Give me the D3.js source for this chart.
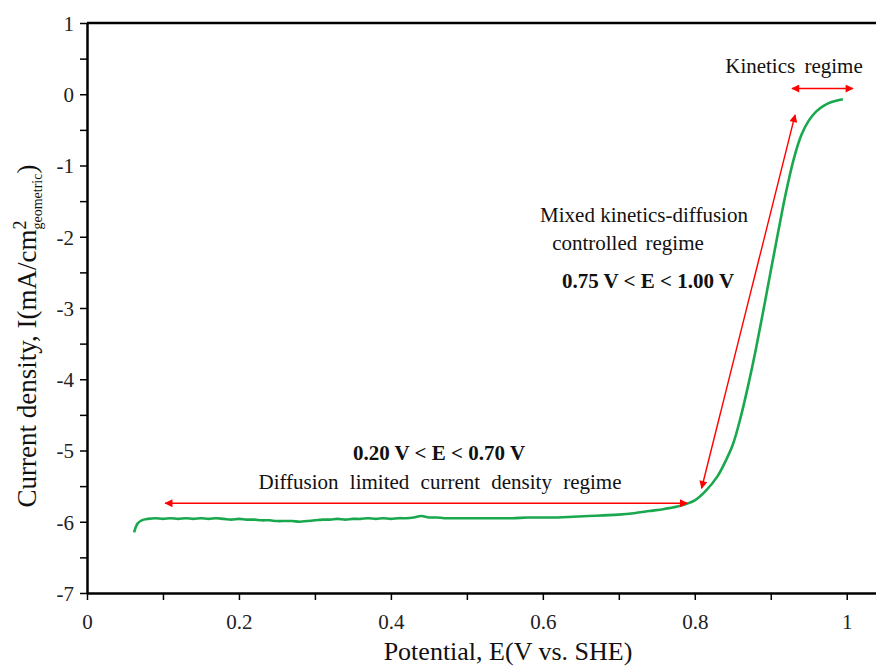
<!DOCTYPE html>
<html>
<head>
<meta charset="utf-8">
<script src="https://cdn.jsdelivr.net/npm/d3@7"></script>
<style>
  body { margin: 0; background: #fff; }
  svg text { font-family: "Liberation Serif", "DejaVu Serif", serif; }
</style>
</head>
<body>
<svg id="chart" width="876" height="667"></svg>
<script>
//
// Data
//

var potential = [0.062, 0.064, 0.067, 0.072, 0.08, 0.09, 0.10, 0.11, 0.12, 0.13, 0.14, 0.15, 0.16, 0.17, 0.18, 0.19,
  0.20, 0.21, 0.22, 0.23, 0.24, 0.25, 0.26, 0.27, 0.28, 0.29, 0.30, 0.31, 0.32, 0.33, 0.34, 0.35, 0.36, 0.37, 0.38, 0.39,
  0.40, 0.41, 0.42, 0.43, 0.44, 0.45, 0.46, 0.47, 0.48, 0.49, 0.50, 0.52, 0.54, 0.56, 0.58, 0.60, 0.62, 0.64, 0.66, 0.68,
  0.70, 0.72, 0.74, 0.76, 0.78, 0.80, 0.815, 0.83, 0.84, 0.85, 0.86, 0.87, 0.88, 0.89, 0.90, 0.91, 0.92, 0.93, 0.94,
  0.95, 0.96, 0.97, 0.98, 0.995]
var current = [-6.15, -6.08, -6.02, -5.98, -5.96, -5.95, -5.96, -5.95, -5.96, -5.95, -5.96, -5.95, -5.96, -5.95, -5.96, -5.97,
  -5.96, -5.97, -5.97, -5.98, -5.98, -5.99, -5.99, -5.99, -6.00, -5.99, -5.98, -5.97, -5.97, -5.96, -5.97, -5.96, -5.96, -5.95, -5.96, -5.95,
  -5.96, -5.95, -5.95, -5.94, -5.92, -5.94, -5.94, -5.95, -5.95, -5.95, -5.95, -5.95, -5.95, -5.95, -5.94, -5.94, -5.94, -5.93, -5.92, -5.91,
  -5.90, -5.88, -5.85, -5.82, -5.78, -5.70, -5.56, -5.36, -5.16, -4.92, -4.55, -4.10, -3.60, -3.05, -2.48, -1.92, -1.38, -0.92, -0.58,
  -0.37, -0.24, -0.16, -0.11, -0.07]

var xTicks = [0, 0.1, 0.2, 0.3, 0.4, 0.5, 0.6, 0.7, 0.8, 0.9, 1]
var yTicks = [1, 0.5, 0, -0.5, -1, -1.5, -2, -2.5, -3, -3.5, -4, -4.5, -5, -5.5, -6, -6.5, -7]

// red regime arrows: [x1, y1, x2, y2] in data units
var arrows = [
  [0.103, -5.74, 0.79, -5.74],
  [0.809, -5.53, 0.932, -0.29],
  [0.928, 0.08, 1.008, 0.08]
]

//
// Layout
//

var serif = '"Liberation Serif", "DejaVu Serif", serif'
var svg = d3.select('#chart')
var x = d3.scaleLinear().domain([0, 1.038]).range([87, 875.6])
var y = d3.scaleLinear().domain([-7, 1]).range([593, 23])

var defs = svg.append('defs')
defs.append('marker')
  .attr('id', 'head')
  .attr('viewBox', '0 0 10 10')
  .attr('refX', 9).attr('refY', 5)
  .attr('markerWidth', 11).attr('markerHeight', 8)
  .attr('markerUnits', 'userSpaceOnUse')
  .attr('orient', 'auto-start-reverse')
  .append('path')
  .attr('d', 'M0,0 L10,5 L0,10 Z')
  .attr('fill', '#f00')

// axes
var xAxis = d3.axisBottom(x).tickValues(xTicks).tickSize(7).tickSizeOuter(0)
  .tickFormat(function(d) { return Math.round(d * 10) % 2 === 0 ? d3.format('~g')(d) : '' })
var yAxis = d3.axisLeft(y).tickValues(yTicks).tickSize(7).tickSizeOuter(0)
  .tickFormat(function(d) { return Number.isInteger(d) ? d : '' })

var gx = svg.append('g').attr('transform', 'translate(0,593)').call(xAxis)
var gy = svg.append('g').attr('transform', 'translate(87,0)').call(yAxis)

;[gx, gy].forEach(function(g) {
  g.attr('font-family', serif)
  g.select('.domain').attr('stroke', '#000').attr('stroke-width', 2.5)
  g.selectAll('.tick line').attr('stroke', '#000').attr('stroke-width', 1.5)
  g.selectAll('.tick text')
    .attr('font-family', serif)
    .attr('font-size', 21).attr('fill', '#222')
})
gx.selectAll('.tick text').attr('dy', '1.25em')
gy.selectAll('.tick text').attr('x', -13).attr('dy', '0.35em')

// top frame line
svg.append('line')
  .attr('x1', x(0)).attr('x2', 876)
  .attr('y1', y(1)).attr('y2', y(1))
  .attr('stroke', '#000').attr('stroke-width', 2.5)

// curve
var line = d3.line()
  .x(function(d, i) { return x(potential[i]) })
  .y(function(d, i) { return y(current[i]) })
  .curve(d3.curveCatmullRom)

svg.append('path')
  .datum(current)
  .attr('d', line)
  .attr('fill', 'none')
  .attr('stroke', '#1aa84f')
  .attr('stroke-width', 2.6)

// arrows
svg.selectAll('.arrow')
  .data(arrows)
  .enter().append('line')
  .attr('class', 'arrow')
  .attr('x1', function(d) { return x(d[0]) })
  .attr('y1', function(d) { return y(d[1]) })
  .attr('x2', function(d) { return x(d[2]) })
  .attr('y2', function(d) { return y(d[3]) })
  .attr('stroke', '#f00')
  .attr('stroke-width', 1.4)
  .attr('marker-start', 'url(#head)')
  .attr('marker-end', 'url(#head)')

// annotations
function label(txt, cx, cy, size, bold, ws) {
  svg.append('text')
    .attr('x', cx).attr('y', cy)
    .attr('text-anchor', 'middle')
    .attr('font-family', serif)
    .attr('font-size', size)
    .attr('font-weight', bold ? 'bold' : 'normal')
    .attr('word-spacing', ws || 0)
    .attr('fill', '#111')
    .text(txt)
}
label('Kinetics regime', 794, 73, 21, false, 4)
label('Mixed kinetics-diffusion', 644, 222, 21, false, 0)
label('controlled regime', 628, 250, 21, false, 3)
label('0.75 V < E < 1.00 V', 648, 288, 21, true, 0)
label('0.20 V < E < 0.70 V', 439, 460, 21, true, 0)
label('Diffusion limited current density regime', 440, 489, 21, false, 6)

// axis titles
svg.append('text')
  .attr('x', 508).attr('y', 660)
  .attr('text-anchor', 'middle')
  .attr('font-family', serif)
  .attr('font-size', 26)
  .attr('fill', '#111')
  .text('Potential, E(V vs. SHE)')

var yt = svg.append('text')
  .attr('transform', 'translate(36,336) rotate(-90)')
  .attr('text-anchor', 'middle')
  .attr('font-family', serif)
  .attr('font-size', 27)
  .attr('fill', '#111')
yt.append('tspan').text('Current density, I(mA/cm')
yt.append('tspan').attr('font-size', 18).attr('dy', -10).text('2')
yt.append('tspan').attr('font-size', 14).attr('dx', -9).attr('dy', 16).text('geometric')
yt.append('tspan').attr('dy', -6).text(')')
</script>
</body>
</html>
